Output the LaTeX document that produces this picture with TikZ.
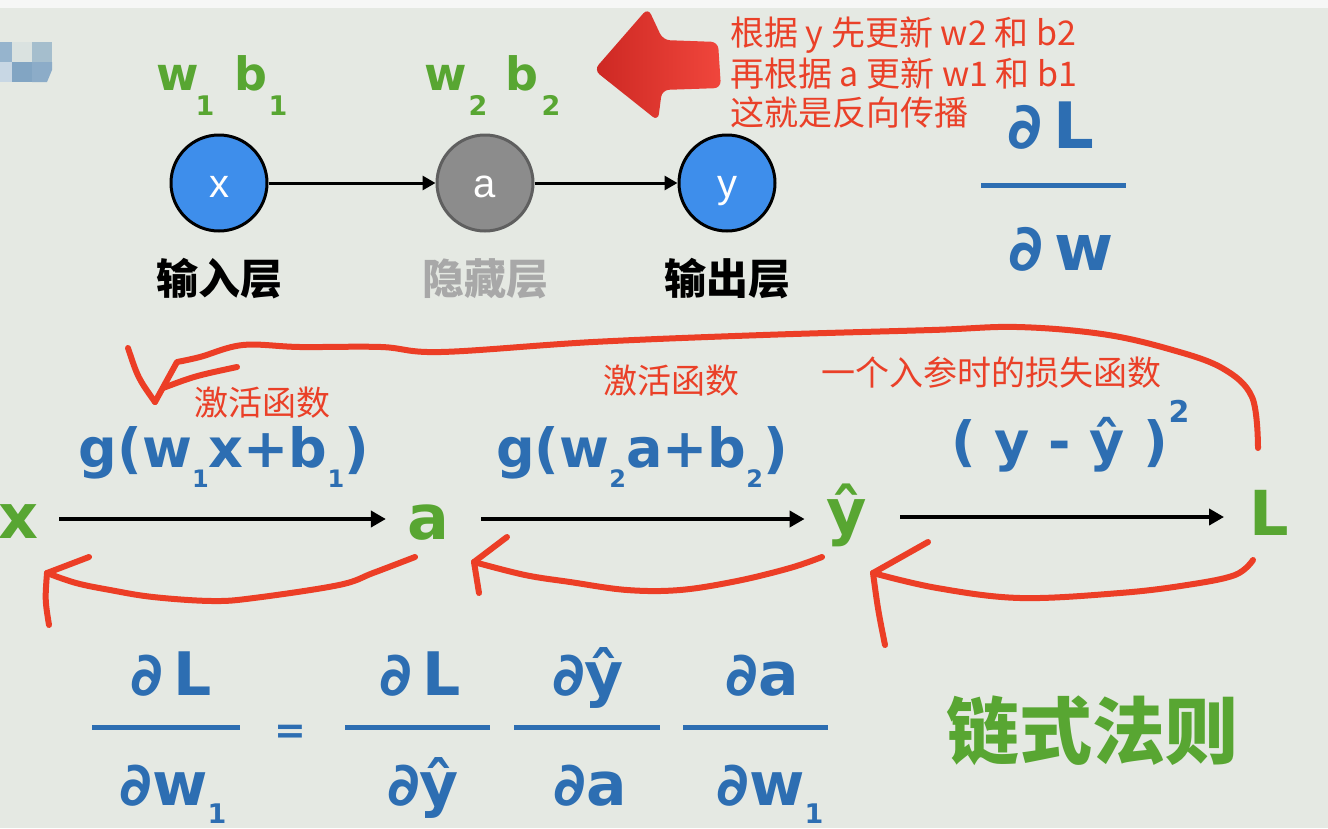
\documentclass[tikz,border=0pt]{standalone}
\usepackage{fontspec}
\setmainfont{DejaVu Sans}
\newfontfamily\cjk{Noto Sans CJK SC}
\newfontfamily\hand[BoldFont={DejaVu Sans Bold}]{DejaVu Sans}
\newfontfamily\helv{Liberation Sans}
\usetikzlibrary{arrows.meta}
\definecolor{bg}{RGB}{229,233,227}
\definecolor{topstrip}{RGB}{246,247,246}
\definecolor{myred}{RGB}{234,64,40}
\definecolor{curvered}{RGB}{236,62,38}
\definecolor{mygreen}{RGB}{88,166,50}
\definecolor{myblue}{RGB}{45,110,178}
\definecolor{nodeblue}{RGB}{62,142,235}
\definecolor{nodegrey}{RGB}{140,140,140}
\definecolor{nodegreyb}{RGB}{95,95,95}
\definecolor{hidgrey}{RGB}{168,168,168}
\newcommand{\lowsub}[3]{\raisebox{-#1}{\fontsize{#2}{#2}\selectfont #3}}
\begin{document}
\begin{tikzpicture}[x=1pt,y=-1pt,
  redtxt/.style={text=myred, font=\cjk\fontsize{34}{34}\selectfont, inner sep=0},
  layer/.style={font=\cjk\bfseries\fontsize{42}{42}\selectfont, inner sep=0, anchor=base},
  greentop/.style={text=mygreen, font=\hand\bfseries\fontsize{46}{46}\selectfont, inner sep=0, anchor=base},
  greensub/.style={text=mygreen, font=\hand\bfseries\fontsize{27}{27}\selectfont, inner sep=0, anchor=base},
  bluef/.style={text=myblue, font=\hand\bfseries\fontsize{54}{54}\selectfont, inner sep=0, anchor=base},
  fracf/.style={text=myblue, font=\hand\bfseries\fontsize{60}{60}\selectfont, inner sep=0, anchor=base},
  bigfrac/.style={text=myblue, font=\hand\bfseries\fontsize{64}{64}\selectfont, inner sep=0, anchor=base},
  greenl/.style={text=mygreen, font=\hand\bfseries\fontsize{62}{62}\selectfont, inner sep=0, anchor=base},
  neuron/.style={circle, minimum size=96pt, line width=3pt, inner sep=0, text=white,
    font=\helv\fontsize{40}{40}\selectfont, text height=28pt, text depth=0pt},
  netarr/.style={line width=3pt, -{Triangle[length=13pt,width=14pt]}},
  midarr/.style={line width=4.5pt, -{Triangle[length=15pt,width=16pt]}},
  fracbar/.style={draw=myblue, line width=5pt},
  redcurve/.style={draw=curvered, line width=6pt, line cap=round, line join=round}
]
% background
\fill[bg] (0,0) rectangle (1328,828);
\fill[topstrip] (0,0) rectangle (1328,8);
\useasboundingbox (0,0) rectangle (1328,828);

% blurred mosaic at top left
\fill[fill={rgb,255:red,150;green,180;blue,205}] (0,42) rectangle (12,62);
\fill[fill={rgb,255:red,218;green,226;blue,224}] (12,42) rectangle (32,62);
\fill[fill={rgb,255:red,165;green,190;blue,205}] (32,42) rectangle (52,62);
\fill[fill={rgb,255:red,200;green,215;blue,228}] (0,62) rectangle (12,82);
\fill[fill={rgb,255:red,130;green,165;blue,195}] (12,62) rectangle (32,82);
\fill[fill={rgb,255:red,140;green,172;blue,200}] (32,62) -- (52,62) -- (52,70) -- (47,82) -- (32,82) -- cycle;

% network
\node[neuron, draw=black, fill=nodeblue] (cx) at (219,183) {x};
\node[neuron, draw=nodegreyb, fill=nodegrey] (ca) at (485,183) {a};
\node[neuron, draw=black, fill=nodeblue] (cy) at (727,183) {y};
\draw[netarr] (cx) -- (ca);
\draw[netarr] (ca) -- (cy);

\node[layer, text=black] (l1) at (219,294) {输入层};
\node[layer, text=hidgrey] (l2) at (485,294) {隐藏层};
\node[layer, text=black] (l3) at (727,294) {输出层};

% weights
\node[greentop] (w1) at (178,90) {w};
\node[greensub] (w1s) at (205,115) {1};
\node[greentop] (b1) at (251,90) {b};
\node[greensub] (b1s) at (278,115) {1};
\node[greentop] (w2) at (446,90) {w};
\node[greensub] (w2s) at (478,115) {2};
\node[greentop] (b2) at (522,90) {b};
\node[greensub] (b2s) at (551,115) {2};

% big red 3D arrow
\shade[left color={rgb,255:red,205;green,40;blue,35}, right color={rgb,255:red,240;green,70;blue,60}, rounded corners=7pt]
  (594,70) -- (648,8) -- (663,40) -- (718,42) -- (721,88) -- (662,90) -- (658,121) -- cycle;

% red notes
\node[redtxt, anchor=base west] (t1) at (730,45) {根据 y 先更新 w2 和 b2};
\node[redtxt, anchor=base west] (t2) at (730,86) {再根据 a 更新 w1 和 b1};
\node[redtxt, anchor=base west] (t3) at (730,125) {这就是反向传播};

% top-right fraction
\node[bigfrac] (dl) at (1051,148) {∂\,L};
\draw[fracbar] (981,185) -- (1126,185);
\node[bigfrac] (dw) at (1061,270) {∂\,w};

% chain
\node[greenl] (nx) at (18,538) {x};
\node[greenl] (na) at (428,539) {a};
\node[greenl] (nyh) at (847,533) {ŷ};
\node[greenl] (nL) at (1269,535) {L};
\draw[midarr, shorten <=21pt, shorten >=21pt] (nx.east |- 0,519) -- (na.west |- 0,519);
\draw[midarr, shorten <=32pt, shorten >=22pt] (na.east |- 0,519) -- (nyh.west |- 0,519);
\draw[midarr, shorten <=33pt, shorten >=25pt] (nyh.east |- 0,517) -- (nL.west |- 0,517);

\node[bluef] (f1) at (224,467) {g(w\lowsub{20pt}{24}{1}x+b\lowsub{20pt}{24}{1})};
\node[bluef] (f2) at (642,467) {g(w\lowsub{20pt}{24}{2}a+b\lowsub{20pt}{24}{2})};
\node[bluef] (f3) at (1060,460) {( y - ŷ )};
\node[text=myblue, font=\hand\bfseries\fontsize{30}{30}\selectfont, inner sep=0, anchor=base] (f3s) at (1179,422) {2};

\node[redtxt, anchor=base] (h1) at (262,415) {激活函数};
\node[redtxt, anchor=base] (h2) at (671,393) {激活函数};
\node[redtxt, anchor=base] (h3) at (991,385) {一个入参时的损失函数};

% red hand-drawn loops
\draw[redcurve] plot[smooth, tension=0.6] coordinates {(1258,448) (1252,397) (1222,368) (1169,349) (1102,334) (1017,327) (932,330) (763,335) (593,342) (441,352) (381,347) (300,347) (243,345) (200,357) (177,362)} -- (155,402);
\draw[redcurve] (128,348) .. controls (138,378) .. (155,402);
\draw[redcurve] (163,388) .. controls (195,376) .. (237,367);

\draw[redcurve] plot[smooth, tension=0.6] coordinates {(415,557) (373,573) (339,585) (254,598) (212,601) (153,597) (110,590) (76,583) (47,573)};
\draw[redcurve] (89,557) -- (47,573);
\draw[redcurve] (47,573) .. controls (45,600) .. (49,625);

\draw[redcurve] plot[smooth, tension=0.6] coordinates {(822,557) (790,568) (737,581) (680,590) (627,590) (570,582) (525,575) (474,562)};
\draw[redcurve] (507,537) -- (474,562);
\draw[redcurve] (474,562) .. controls (476,578) .. (479,593);

\draw[redcurve] plot[smooth, tension=0.6] coordinates {(1253,560) (1235,575) (1187,585) (1120,593) (1020,598) (937,588) (873,573)};
\draw[redcurve] (928,542) -- (873,573);
\draw[redcurve] (873,573) .. controls (878,610) .. (885,645);

% chain rule
\node[fracf] (n1) at (171,695) {∂\,L};
\draw[fracbar] (92,727) -- (240,727);
\node[fracf] (d1) at (173,805) {∂w\lowsub{18pt}{27}{1}};
\node[text=myblue, font=\hand\bfseries\fontsize{38}{38}\selectfont, inner sep=0, anchor=base] (eq) at (290,743) {=};
\node[fracf] (n2) at (420,695) {∂\,L};
\draw[fracbar] (345,727) -- (490,727);
\node[fracf] (d2) at (423,805) {∂ŷ};
\node[fracf] (n3) at (588,695) {∂ŷ};
\draw[fracbar] (514,727) -- (660,727);
\node[fracf] (d3) at (590,805) {∂a};
\node[fracf] (n4) at (762,695) {∂a};
\draw[fracbar] (683,727) -- (828,727);
\node[fracf] (d4) at (770,805) {∂w\lowsub{18pt}{27}{1}};

\node[text=mygreen, font=\cjk\bfseries\fontsize{73}{73}\selectfont, inner sep=0, anchor=base] (rule) at (1092,758) {链式法则};
\end{tikzpicture}
\end{document}
